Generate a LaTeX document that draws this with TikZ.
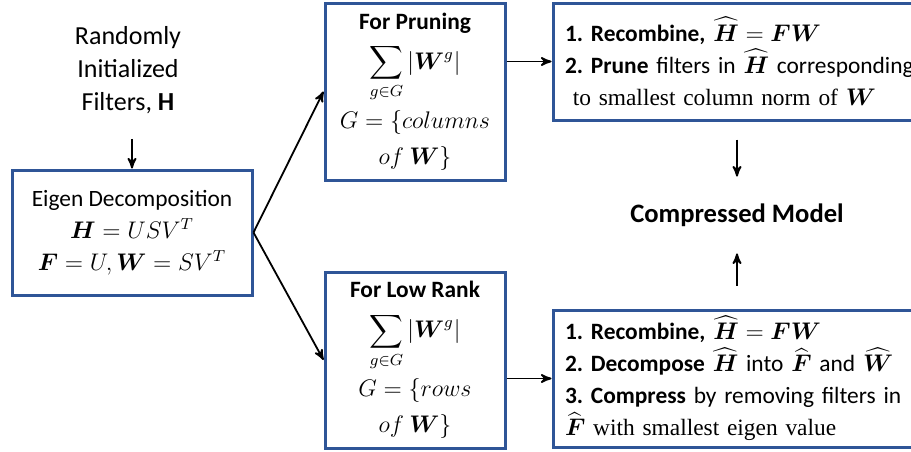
\documentclass[tikz,border=0pt]{standalone}
\usepackage{amsmath}
\usepackage{amssymb}
\usepackage{fontspec}
\setmainfont{Carlito}
\newfontfamily\serifpart{Liberation Serif}
\usetikzlibrary{arrows,positioning}
\definecolor{boxblue}{RGB}{47,85,151}
\newcommand{\mH}{\boldsymbol{H}}
\newcommand{\mF}{\boldsymbol{F}}
\newcommand{\mW}{\boldsymbol{W}}
\frenchspacing

\begin{document}
\begin{tikzpicture}[>=stealth',x=0.5pt,y=-0.5pt,font=\fontsize{11.7}{16}\selectfont,
    box/.style={draw=boxblue, line width=1.5pt, inner sep=0pt},
    stepbox/.style={box, align=left, inner xsep=6pt, inner ysep=1pt, text width=180pt, minimum height=#1},
    link/.style={->, line width=0.9pt}]
  \useasboundingbox (0,0) rectangle (911,451);

  \node (filt) [align=center, font=\fontsize{13}{16.5}\selectfont] at (128,70)
    {Randomly\\Initialized\\Filters, \textbf{H}};
  \node[box, align=center, minimum width=120pt, minimum height=62.5pt] (eig) at (132,232.5)
    {Eigen Decomposition\\ $\mH = USV^T$\\ $\mF = U, \mW = SV^T$};

  \node[box, align=center, minimum width=90pt, minimum height=88.5pt] (prune) at (415,91.5)
    {\textbf{For Pruning}\\[4pt] $\displaystyle\sum_{g\in G}|\mW^g|$\\[3pt] $G=\{columns$\\[2pt] $of\ \mW\}$};
  \node[box, align=center, minimum width=90pt, minimum height=88pt] (lowrank) at (415,360)
    {\textbf{For Low Rank}\\[4pt] $\displaystyle\sum_{g\in G}|\mW^g|$\\[3pt] $G=\{rows$\\[2pt] $of\ \mW\}$};

  \node[stepbox=58.5pt] (recp) at (745,61.5)
    {\textbf{1. Recombine,} $\widehat{\mH} = \mF\mW$\\
     \textbf{2. Prune} filters in $\widehat{\mH}$ corresponding\\
     \ {\serifpart to smallest column norm of} $\mW$};
  \node[stepbox=68.5pt] (recl) at (745,378.5)
    {\textbf{1. Recombine,} $\widehat{\mH} = \mF\mW$\\
     \textbf{2. Decompose} $\widehat{\mH}$ into $\widehat{\mF}$ and $\widehat{\mW}$\\
     \textbf{3. Compress} by removing filters in\\
     $\widehat{\mF}$ {\serifpart with smallest eigen value}};

  \node[font=\fontsize{13.3}{16}\selectfont\bfseries, minimum height=38pt] (comp) at (737,215)
    {Compressed Model};

  \draw[link, shorten <=9pt] (eig.north |- filt.south) -- (eig.north);
  \draw[link] (eig.east) -- (prune.west);
  \draw[link] (eig.east) -- (lowrank.west);
  \draw[link] (prune.east |- recp.west) -- (recp.west);
  \draw[link] (lowrank.east |- recl.west) -- (recl.west);
  \draw[link, shorten <=9pt] (recp.south -| comp.north) -- (comp.north);
  \draw[link, shorten <=11.5pt] (recl.north -| comp.south) -- (comp.south);
\end{tikzpicture}
\end{document}
